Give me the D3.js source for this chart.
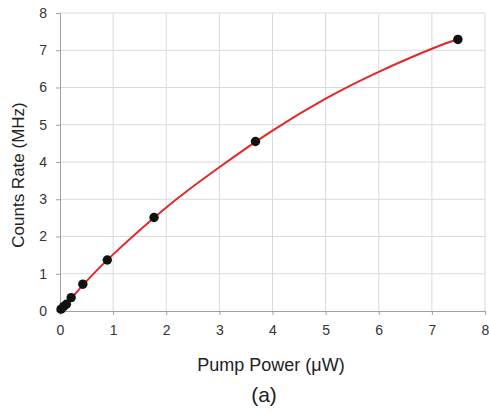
<!DOCTYPE html>
<html><head><meta charset="utf-8">
<script src="https://cdn.jsdelivr.net/npm/d3@7"></script>
<style>body{margin:0;background:#fff}svg{display:block}text{font-family:"Liberation Sans",Arial,sans-serif}</style>
</head><body>
<svg id="c" width="489" height="414"></svg>
<script>
const powerData = [0.02, 0.07, 0.12, 0.21, 0.43, 0.89, 1.77, 3.68, 7.49];
const countsData = [0.05, 0.12, 0.18, 0.36, 0.72, 1.37, 2.51, 4.55, 7.29];
const fitX = [0, 0.5, 1, 2, 3, 4, 5, 6, 7, 7.5];
const fitY = [0, 0.8, 1.52, 2.78, 3.86, 4.84, 5.7, 6.42, 7.04, 7.3];
const xTicks = [0,1,2,3,4,5,6,7,8];
const yTicks = [0,1,2,3,4,5,6,7,8];

const svg = d3.select("#c");
const x = d3.scaleLinear().domain([0,8]).range([60,485]);
const y = d3.scaleLinear().domain([0,8]).range([311,13]);

// grid
svg.append("g").selectAll("line").data(xTicks.slice(1)).join("line")
  .attr("x1",d=>x(d)).attr("x2",d=>x(d)).attr("y1",y(0)).attr("y2",y(8))
  .attr("stroke","#d9d9d9").attr("stroke-width",1);
svg.append("g").selectAll("line").data(yTicks.slice(1)).join("line")
  .attr("x1",x(0)).attr("x2",x(8)).attr("y1",d=>y(d)).attr("y2",d=>y(d))
  .attr("stroke","#d9d9d9").attr("stroke-width",1);

// axes
const xa = svg.append("g").attr("transform",`translate(0,${y(0)})`)
  .call(d3.axisBottom(x).tickValues(xTicks).tickSize(4).tickPadding(10).tickFormat(d3.format("d")));
const ya = svg.append("g").attr("transform",`translate(${x(0)},0)`)
  .call(d3.axisLeft(y).tickValues(yTicks).tickSize(4).tickPadding(9).tickFormat(d3.format("d")));
[xa,ya].forEach(g=>{
  g.select(".domain").attr("stroke","#a0a0a0");
  g.selectAll(".tick line").attr("stroke","#a0a0a0");
  g.selectAll("text").attr("font-size",14).attr("fill","#333");
});

// fit line
svg.append("path").datum(fitX.map((v,i)=>[v,fitY[i]]))
  .attr("d", d3.line().x(d=>x(d[0])).y(d=>y(d[1])).curve(d3.curveNatural))
  .attr("fill","none").attr("stroke","#e3262a").attr("stroke-width",2);

// points
svg.append("g").selectAll("circle").data(powerData.map((v,i)=>[v,countsData[i]])).join("circle")
  .attr("cx",d=>x(d[0])).attr("cy",d=>y(d[1])).attr("r",4.7).attr("fill","#111");

// labels
svg.append("text").attr("x",271).attr("y",371).attr("text-anchor","middle")
  .attr("font-size",18).attr("fill","#222").text("Pump Power (μW)");
svg.append("text").attr("transform","translate(24,175) rotate(-90)").attr("text-anchor","middle")
  .attr("font-size",17).attr("fill","#222").text("Counts Rate (MHz)");
svg.append("text").attr("x",264).attr("y",402).attr("text-anchor","middle")
  .attr("font-size",21).attr("fill","#222").text("(a)");
</script>
</body></html>
